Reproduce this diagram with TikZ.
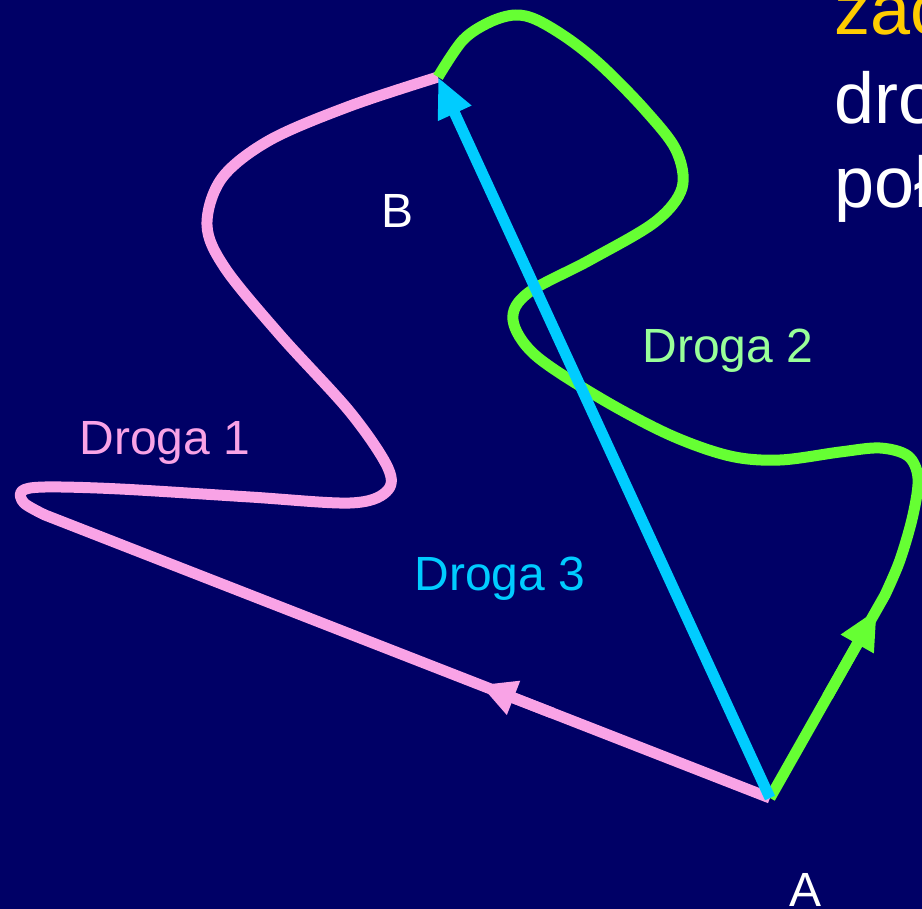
\documentclass[tikz,border=0pt]{standalone}
\usepackage{fontspec}
\setmainfont{Liberation Sans}
\usetikzlibrary{arrows.meta,calc}
\definecolor{bg}{HTML}{000066}
\definecolor{pinkc}{HTML}{F9A3E6}
\definecolor{greenc}{HTML}{66FF33}
\definecolor{cyanc}{HTML}{00CCFF}
\definecolor{lgreen}{HTML}{99FF99}
\definecolor{gold}{HTML}{FFCC00}
\begin{document}
\begin{tikzpicture}[x=1pt,y=-1pt,
  pinkpath/.style={draw=pinkc,line width=11pt,line join=round},
  greenpath/.style={draw=greenc,line width=11pt,line join=round},
  cyanpath/.style={draw=cyanc,line width=11pt},
  lbl/.style={font=\fontsize{48}{56}\selectfont,inner sep=0pt,anchor=base},
  bigtxt/.style={font=\fontsize{72}{86}\selectfont,inner sep=0pt,anchor=base west}]
\useasboundingbox (0,0) rectangle (922,909);
\fill[bg] (0,0) rectangle (922,909);
\clip (0,0) rectangle (922,909);

\coordinate (A) at (770,798);
\coordinate (B) at (438,77);
\coordinate (L1) at (45,515);
\coordinate (G1) at (885,595);

% Droga 1 (pink)
\draw[pinkpath] (A) -- (L1) -- plot[smooth,tension=0.55] coordinates {(L1) (24,503) (22,491) (45,487) (120,489) (250,497) (350,503) (386,492) (388,468) (350,412) (280,335) (225,268) (207,225) (222,178) (270,140) (350,106) (B)};
\draw[pinkc,line width=11pt,-{Triangle[length=36pt,width=34pt]}] ($(A)!0.3!(L1)$) -- ($(A)!0.4!(L1)$);

% Droga 2 (green)
\draw[greenpath] (A) -- (G1) -- plot[smooth,tension=0.55] coordinates {(G1) (900,560) (913,515) (918,478) (908,456) (880,448) (840,452) (780,460) (730,456) (670,435) (600,398) (535,355) (513,320) (528,293) (590,260) (655,222) (682,188) (676,150) (645,110) (603,67) (570,40) (537,20) (515,15) (490,22) (463,40) (B)};
\draw[greenc,line width=11pt,-{Triangle[length=40pt,width=35pt]}] ($(A)!0.5!(G1)$) -- ($(A)!0.93!(G1)$);

% Droga 3 (cyan)
\draw[cyanpath,-{Triangle[length=40pt,width=34pt]}] (A) -- (B);

% labels
\node[lbl,text=pinkc] (d1) at (165,455) {Droga 1};
\node[lbl,text=lgreen] (d2) at (728,363) {Droga 2};
\node[lbl,text=cyanc] (d3) at (500,590) {Droga 3};
\node[lbl,text=white] (lb) at (398,228) {B};
\node[lbl,text=white] (la) at (806,906) {A};

\node[bigtxt,text=gold] (t1) at (834,35) {zac};
\node[bigtxt,text=white] (t2) at (834,124) {dro};
\node[bigtxt,text=white] (t3) at (834,208) {poł};
\end{tikzpicture}
\end{document}
